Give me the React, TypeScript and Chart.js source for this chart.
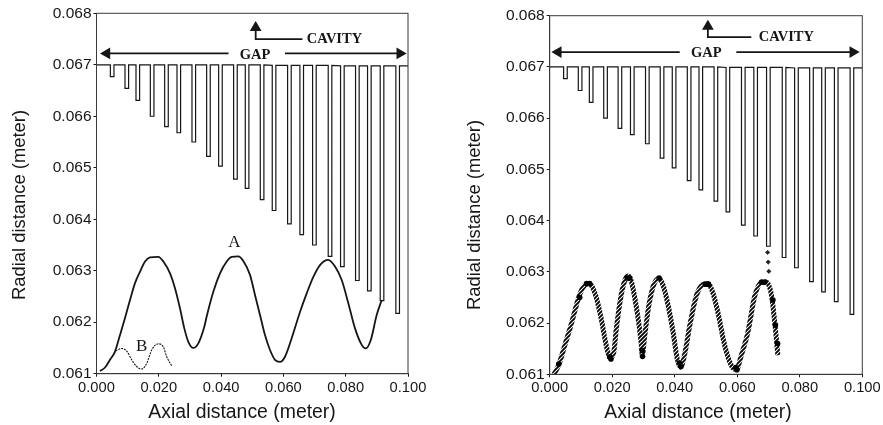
import React, { useEffect, useRef } from "react";
import { Chart, registerables } from "chart.js";

Chart.register(...registerables);

const xTicks = [0, 0.02, 0.04, 0.06, 0.08, 0.1];
const yTicks = [0.061, 0.062, 0.063, 0.064, 0.065, 0.066, 0.067, 0.068];
const xTitle = "Axial distance (meter)";
const yTitle = "Radial distance (meter)";

const toothCenters = [0.00503, 0.00973, 0.01326, 0.01786, 0.02246, 0.02642, 0.03123, 0.03594, 0.03979, 0.0446, 0.04834, 0.05316, 0.057, 0.06193, 0.06588, 0.06995, 0.07497, 0.07893, 0.08374, 0.08759, 0.09166, 0.09668];
const toothBottoms = [0.06677, 0.06654, 0.06631, 0.066, 0.0658, 0.06568, 0.0655, 0.06522, 0.06503, 0.06478, 0.0646, 0.06438, 0.06417, 0.06391, 0.0637, 0.0635, 0.06328, 0.06308, 0.06281, 0.06261, 0.06242, 0.06217];
const toothRims = [0.067, 0.067, 0.067, 0.067, 0.067, 0.067, 0.067, 0.067, 0.067, 0.067, 0.067, 0.067, 0.06699, 0.06699, 0.06699, 0.06699, 0.06699, 0.06698, 0.06698, 0.06698, 0.06698, 0.06698];
const toothHalfWidth = 0.00058;

const curveAx = [0.00112, 0.00273, 0.00433, 0.00594, 0.00754, 0.00915, 0.01075, 0.01236, 0.01396, 0.01557, 0.01717, 0.01985, 0.02146, 0.0236, 0.0252, 0.0268, 0.02819, 0.02948, 0.03108, 0.03269, 0.03461, 0.03537, 0.0375, 0.03965, 0.0418, 0.0434, 0.04552, 0.04713, 0.04928, 0.05088, 0.05249, 0.05409, 0.0557, 0.0573, 0.05891, 0.06051, 0.06266, 0.06533, 0.06748, 0.06961, 0.07175, 0.07442, 0.07657, 0.07872, 0.08084, 0.08299, 0.08514, 0.08642, 0.08803, 0.08995, 0.09155];
const curveAy = [0.06105, 0.06112, 0.06127, 0.06143, 0.06175, 0.06208, 0.06243, 0.06276, 0.06298, 0.06318, 0.06326, 0.06327, 0.06318, 0.06295, 0.06266, 0.06227, 0.06188, 0.06162, 0.0615, 0.06159, 0.06191, 0.06211, 0.06259, 0.06295, 0.06318, 0.06327, 0.06328, 0.06319, 0.06292, 0.06253, 0.06214, 0.06175, 0.06146, 0.06127, 0.06123, 0.06133, 0.06169, 0.0622, 0.06256, 0.06288, 0.06311, 0.06321, 0.06308, 0.06282, 0.06237, 0.06188, 0.06156, 0.06149, 0.06165, 0.06214, 0.06243];

const curveBx = [0.00616, 0.00809, 0.0097, 0.0113, 0.0129, 0.01451, 0.01611, 0.01772, 0.01985, 0.02146, 0.02253, 0.02414];
const curveBy = [0.06144, 0.06149, 0.06144, 0.06127, 0.06114, 0.06109, 0.0612, 0.06146, 0.06158, 0.06152, 0.06133, 0.06115];

const curveCx = [0.0014, 0.003, 0.0048, 0.0069, 0.0096, 0.0112, 0.0123, 0.0133, 0.0149, 0.0165, 0.0181, 0.0194, 0.0205, 0.0213, 0.0229, 0.0243, 0.0252, 0.0261, 0.0272, 0.0283, 0.0293, 0.0296, 0.0304, 0.0317, 0.0333, 0.035, 0.0362, 0.0378, 0.0394, 0.0408, 0.0419, 0.0432, 0.0448, 0.0469, 0.049, 0.0506, 0.0522, 0.0538, 0.056, 0.0581, 0.0597, 0.0613, 0.0634, 0.0656, 0.0677, 0.0693, 0.0709, 0.072, 0.073];
const curveCy = [0.061, 0.0612, 0.06156, 0.06198, 0.06256, 0.06274, 0.06277, 0.06274, 0.0625, 0.06208, 0.06156, 0.06132, 0.06143, 0.06188, 0.06256, 0.06287, 0.06292, 0.06282, 0.0625, 0.06208, 0.06159, 0.06137, 0.06175, 0.06234, 0.06275, 0.06287, 0.06275, 0.06237, 0.06185, 0.0613, 0.06114, 0.0614, 0.06195, 0.06253, 0.06275, 0.06277, 0.06259, 0.06221, 0.06156, 0.06117, 0.06109, 0.06137, 0.06182, 0.06253, 0.06279, 0.0628, 0.06256, 0.06201, 0.06137];

const blobsX = [0.0029, 0.0096, 0.0118, 0.0128, 0.0192, 0.0196, 0.0296, 0.0297, 0.0248, 0.0256, 0.035, 0.0415, 0.042, 0.0595, 0.0599, 0.0498, 0.0508, 0.0678, 0.0688, 0.0714, 0.0722, 0.0729];
const blobsY = [0.0612, 0.0625, 0.06277, 0.06277, 0.06134, 0.0613, 0.06147, 0.06135, 0.06288, 0.06288, 0.06288, 0.06122, 0.06115, 0.06113, 0.06109, 0.06276, 0.06276, 0.0628, 0.0628, 0.06245, 0.06196, 0.0616];

const strayX = [0.0697, 0.0699, 0.0701];
const strayY = [0.06338, 0.06319, 0.06301];

const arrowsLeft = {
  gapLeft: { x: [0.0424, 0.0033], y: [0.06722, 0.06722] },
  gapRight: { x: [0.0605, 0.0974], y: [0.06722, 0.06722] },
  cavity: { x: [0.0661, 0.0511, 0.0511], y: [0.0675, 0.0675, 0.06772] },
};
const arrowsRight = {
  gapLeft: { x: [0.0416, 0.0027], y: [0.06729, 0.06729] },
  gapRight: { x: [0.0597, 0.097], y: [0.06729, 0.06729] },
  cavity: { x: [0.0645, 0.0506, 0.0506], y: [0.06758, 0.06758, 0.06779] },
};

const labelsLeft = [
  { t: "GAP", x: 0.0509, y: 0.06719, f: "bold 14.5px 'Liberation Serif'" },
  { t: "CAVITY", x: 0.0764, y: 0.06749, f: "bold 14.5px 'Liberation Serif'" },
  { t: "A", x: 0.0443, y: 0.06355, f: "17px 'Liberation Serif'" },
  { t: "B", x: 0.0145, y: 0.06152, f: "17px 'Liberation Serif'" },
];
const labelsRight = [
  { t: "GAP", x: 0.0501, y: 0.06727, f: "bold 14.5px 'Liberation Serif'" },
  { t: "CAVITY", x: 0.0757, y: 0.06757, f: "bold 14.5px 'Liberation Serif'" },
];

const INK = "#161616";

const zip = (xs: number[], ys: number[]) => xs.map((x, i) => ({ x, y: ys[i] }));

function teethOutline() {
  const pts: { x: number; y: number }[] = [{ x: 0, y: toothRims[0] }];
  toothCenters.forEach((c, i) => {
    pts.push({ x: c - toothHalfWidth, y: toothRims[i] });
    pts.push({ x: c - toothHalfWidth, y: toothBottoms[i] });
    pts.push({ x: c + toothHalfWidth, y: toothBottoms[i] });
    pts.push({ x: c + toothHalfWidth, y: toothRims[i] });
  });
  pts.push({ x: 0.1, y: toothRims[toothRims.length - 1] });
  return pts;
}

function lineSet(data: any[], extra: any = {}) {
  return { data, showLine: true, borderColor: INK, backgroundColor: INK, borderWidth: 1.2, pointRadius: 0, tension: 0, ...extra };
}

function arrowSets(a: typeof arrowsLeft) {
  const head = (n: number, rot: number) => ({
    pointRadius: Array.from({ length: n }, (_, i) => (i === n - 1 ? 5 : 0)),
    pointRotation: Array.from({ length: n }, (_, i) => (i === n - 1 ? rot : 0)),
    pointStyle: "triangle",
    borderWidth: 1.8,
  });
  return [
    lineSet(zip(a.gapLeft.x, a.gapLeft.y), head(2, -90)),
    lineSet(zip(a.gapRight.x, a.gapRight.y), head(2, 90)),
    lineSet(zip(a.cavity.x, a.cavity.y), head(3, 0)),
  ];
}

function build(
  canvas: HTMLCanvasElement,
  datasets: any[],
  labels: any[],
  g: { left: number; yW: number; right: number; top: number; xH: number; xTitleX: number; xTitleY: number; yTitleX: number; yTitleY: number }
) {
  const tickRender = (v: number) => Number(v).toFixed(3);
  const overlay = {
    id: "overlay",
    afterDatasetsDraw(chart: any) {
      const { ctx, chartArea: ca, scales } = chart;
      ctx.save();
      ctx.strokeStyle = "#3a3a3a";
      ctx.lineWidth = 1;
      ctx.strokeRect(ca.left, ca.top, ca.right - ca.left, ca.bottom - ca.top);
      ctx.fillStyle = INK;
      ctx.textAlign = "center";
      ctx.textBaseline = "middle";
      labels.forEach((l) => {
        ctx.font = l.f;
        ctx.fillText(l.t, scales.x.getPixelForValue(l.x), scales.y.getPixelForValue(l.y));
      });
      ctx.font = "19.4px 'Liberation Sans'";
      ctx.fillText(xTitle, g.xTitleX, g.xTitleY);
      ctx.translate(g.yTitleX, g.yTitleY);
      ctx.rotate(-Math.PI / 2);
      ctx.font = "18.4px 'Liberation Sans'";
      ctx.fillText(yTitle, 0, 0);
      ctx.restore();
    },
  };
  return new Chart(canvas, {
    type: "scatter",
    data: { datasets },
    plugins: [overlay],
    options: {
      animation: false,
      responsive: false,
      layout: { padding: { left: g.left, right: g.right, top: g.top, bottom: 0 } },
      plugins: { legend: { display: false }, tooltip: { enabled: false } },
      scales: {
        x: {
          type: "linear",
          min: 0,
          max: 0.1,
          afterBuildTicks: (s: any) => { s.ticks = xTicks.map((value) => ({ value })); },
          afterFit: (s: any) => { s.height = g.xH; },
          grid: { drawOnChartArea: false, drawTicks: true, tickLength: 3, color: INK },
          border: { color: "#3a3a3a" },
          ticks: { callback: tickRender, font: { family: "'Liberation Sans'", size: 14.7 }, color: INK, padding: 2, maxRotation: 0, autoSkip: false },
          title: { display: false },
        },
        y: {
          type: "linear",
          min: 0.061,
          max: 0.068,
          afterBuildTicks: (s: any) => { s.ticks = yTicks.map((value) => ({ value })); },
          afterFit: (s: any) => { s.width = g.yW; },
          grid: { drawOnChartArea: false, drawTicks: true, tickLength: 3, color: INK },
          border: { color: "#3a3a3a" },
          ticks: { callback: tickRender, font: { family: "'Liberation Sans'", size: 15.5 }, color: INK, padding: 2, autoSkip: false },
          title: { display: false },
        },
      },
    } as any,
  } as any);
}

function hatch(): CanvasPattern | string {
  const c = document.createElement("canvas");
  c.width = 4;
  c.height = 4;
  const x = c.getContext("2d")!;
  x.fillStyle = "#ffffff";
  x.fillRect(0, 0, 4, 4);
  x.strokeStyle = "#000000";
  x.lineWidth = 1.9;
  x.beginPath();
  x.moveTo(-1, 1); x.lineTo(1, -1);
  x.moveTo(0, 4); x.lineTo(4, 0);
  x.moveTo(3, 5); x.lineTo(5, 3);
  x.stroke();
  return x.createPattern(c, "repeat") || INK;
}

export default function App() {
  const leftRef = useRef<HTMLCanvasElement>(null);
  const rightRef = useRef<HTMLCanvasElement>(null);

  useEffect(() => {
    const left = build(
      leftRef.current!,
      [
        lineSet(teethOutline()),
        lineSet(zip(curveAx, curveAy), { borderWidth: 1.8, cubicInterpolationMode: "monotone" }),
        lineSet(zip(curveBx, curveBy), { borderWidth: 1.1, borderDash: [2, 1], cubicInterpolationMode: "monotone" }),
        ...arrowSets(arrowsLeft),
      ],
      labelsLeft,
      { left: 10, yW: 86.5, right: 33, top: 13.3, xH: 51.3, xTitleX: 242, xTitleY: 413, yTitleX: 20, yTitleY: 205 }
    );
    const right = build(
      rightRef.current!,
      [
        lineSet(teethOutline()),
        lineSet(zip(curveCx, curveCy), { borderWidth: 5, borderColor: hatch(), cubicInterpolationMode: "monotone", order: 2 }),
        { data: zip(blobsX, blobsY), pointStyle: "circle", pointRadius: 2.8, backgroundColor: "#000", borderWidth: 0, order: -1 },
        { data: zip(strayX, strayY), pointStyle: "rectRot", pointRadius: 2.2, backgroundColor: "#222", borderColor: "#000", borderWidth: 0.5 },
        ...arrowSets(arrowsRight),
      ],
      labelsRight,
      { left: 22, yW: 86.7, right: 20.7, top: 15.7, xH: 50.7, xTitleX: 257, xTitleY: 413, yTitleX: 34, yTitleY: 215 }
    );
    return () => {
      left.destroy();
      right.destroy();
    };
  }, []);

  return (
    <div style={{ position: "fixed", left: 0, top: 0, width: 883, height: 425, background: "#fff" }}>
      <canvas ref={leftRef} width={441} height={425} style={{ position: "absolute", left: 0, top: 0 }} />
      <canvas ref={rightRef} width={442} height={425} style={{ position: "absolute", left: 441, top: 0 }} />
    </div>
  );
}
